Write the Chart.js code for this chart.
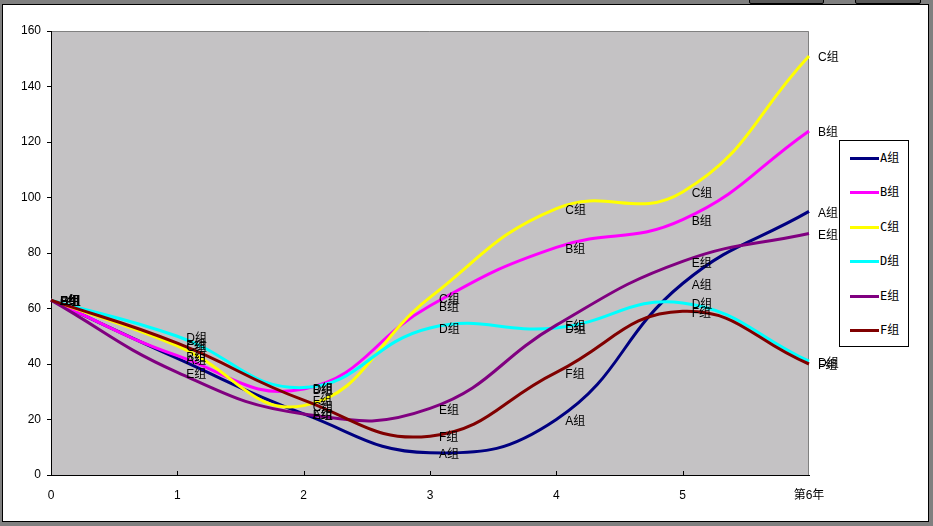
<!DOCTYPE html>
<html>
<head>
<meta charset="utf-8">
<script src="https://cdn.jsdelivr.net/npm/chart.js@4"></script>
<style>
  html, body { margin: 0; padding: 0; }
  body { width: 933px; height: 526px; background: #808080; position: relative; overflow: hidden; }
  #frame { position: absolute; left: 2px; top: 4px; width: 925px; height: 516px; background: #fff; border: 1px solid #000; }
  .btn { position: absolute; top: -3px; height: 5px; background: #5a5a5a; border: 1px solid #000; border-radius: 2px; }
  #chart { position: absolute; left: 0; top: 0; }
  #legend { position: absolute; left: 839px; top: 140px; width: 68px; height: 205px; border: 1px solid #000; background: #fff;
            font: 12px "DejaVu Sans Mono", "Noto Sans CJK SC", monospace; }
  #legend div { position: absolute; left: 10px; height: 14px; line-height: 14px; white-space: nowrap; }
  #legend span { display: inline-block; width: 29px; height: 3px; vertical-align: middle; margin-right: 1px; }
</style>
</head>
<body>
<div class="btn" style="left:749px;width:73px"></div>
<div class="btn" style="left:855px;width:64px"></div>
<div id="frame"></div>
<canvas id="chart" width="933" height="526"></canvas>
<div id="legend"></div>
<script>
// x categories and tick labels
const years = ['0', '1', '2', '3', '4', '5', '第6年'];
const yTicks = [0, 20, 40, 60, 80, 100, 120, 140, 160];

// series values
const groupA = [63, 42, 22, 8, 20, 69, 95];
const groupB = [63, 43, 31, 61, 82, 92, 124];
const groupC = [63, 46.5, 25, 64, 96, 102, 151];
const groupD = [63, 50, 31.5, 53, 53, 62, 41];
const groupE = [63, 37, 22, 24, 54, 77, 87];
const groupF = [63, 47.5, 27, 14, 37, 59, 40];

const names = ['A组', 'B组', 'C组', 'D组', 'E组', 'F组'];
const colors = ['#000080', '#ff00ff', '#ffff00', '#00ffff', '#800080', '#800000'];
const seriesList = [groupA, groupB, groupC, groupD, groupE, groupF];

const datasets = seriesList.map((vals, i) => ({
    label: names[i],
    data: vals,
    borderColor: colors[i],
    borderWidth: 3,
    pointRadius: 0,
    tension: 0.45,
    fill: false,
    order: names.length - i
}));

// gray plot area with a thin border on top / right
const plotBg = {
    id: 'plotBg',
    beforeDraw(chart) {
        const { ctx, chartArea: a } = chart;
        ctx.save();
        ctx.fillStyle = '#c4c2c4';
        ctx.fillRect(a.left, a.top, a.right - a.left, a.bottom - a.top);
        ctx.strokeStyle = '#808080';
        ctx.lineWidth = 1;
        ctx.beginPath();
        ctx.moveTo(a.left, a.top + 0.5);
        ctx.lineTo(a.right - 0.5, a.top + 0.5);
        ctx.lineTo(a.right - 0.5, a.bottom);
        ctx.stroke();
        ctx.restore();
    },
    afterDraw(chart) {
        // small inward tick marks on the x axis
        const { ctx, chartArea: a } = chart;
        const xs = chart.scales.x;
        ctx.save();
        ctx.strokeStyle = '#000';
        ctx.lineWidth = 1;
        for (let i = 1; i < years.length - 1; i++) {
            const px = Math.round(xs.getPixelForTick(i)) + 0.5;
            ctx.beginPath();
            ctx.moveTo(px, a.bottom);
            ctx.lineTo(px, a.bottom - 4);
            ctx.stroke();
        }
        ctx.restore();
    }
};

// series name next to every point
const pointLabels = {
    id: 'pointLabels',
    afterDatasetsDraw(chart) {
        const ctx = chart.ctx;
        ctx.save();
        ctx.font = '12px "Liberation Sans", "Noto Sans CJK SC", sans-serif';
        ctx.fillStyle = '#000';
        ctx.textAlign = 'left';
        ctx.textBaseline = 'middle';
        chart.data.datasets.forEach((ds, i) => {
            chart.getDatasetMeta(i).data.forEach(pt => {
                ctx.fillText(ds.label, pt.x + 9, pt.y + 2);
            });
        });
        ctx.restore();
    }
};

new Chart(document.getElementById('chart'), {
    type: 'line',
    data: { labels: years, datasets: datasets },
    options: {
        responsive: false,
        animation: false,
        layout: { padding: { top: 31, right: 124, bottom: 0, left: 0 } },
        plugins: { legend: { display: false }, tooltip: { enabled: false } },
        scales: {
            x: {
                type: 'category',
                offset: false,
                grid: { display: false },
                border: { color: '#000', width: 1 },
                ticks: { color: '#000', padding: 5, maxRotation: 0, autoSkip: false,
                         font: { family: '"Liberation Sans", "Noto Sans CJK SC", sans-serif', size: 12 } },
                afterFit(scale) { scale.height = 51; }
            },
            y: {
                min: 0,
                max: 160,
                afterBuildTicks(scale) { scale.ticks = yTicks.map(v => ({ value: v })); },
                grid: { drawOnChartArea: false, drawTicks: true, tickLength: 4, color: '#000' },
                border: { color: '#000', width: 1 },
                ticks: { color: '#000', padding: 6,
                         font: { family: '"Liberation Sans", sans-serif', size: 12 } },
                afterFit(scale) { scale.width = 51; }
            }
        }
    },
    plugins: [plotBg, pointLabels]
});

// legend box
const legend = document.getElementById('legend');
names.forEach((n, i) => {
    const row = document.createElement('div');
    row.style.top = (10 + i * 34.4) + 'px';
    row.innerHTML = '<span style="background:' + colors[i] + '"></span>' + n;
    legend.appendChild(row);
});
</script>
</body>
</html>
